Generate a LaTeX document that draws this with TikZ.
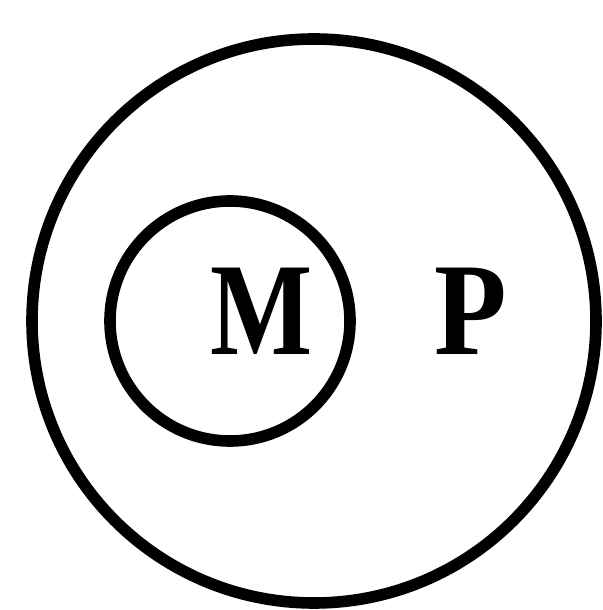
\documentclass[tikz,border=0pt]{standalone}
\usepackage{fontspec}
\setmainfont{Liberation Serif}
\usepackage{tikz}
\tikzset{
  ring/.style={circle, draw=black, line width=5.8pt, inner sep=0pt, outer sep=0pt},
  letter/.style={anchor=base, inner sep=0pt, font=\fontsize{66}{66}\selectfont\bfseries},
}

\begin{document}
\begin{tikzpicture}[x=0.5pt, y=0.5pt]
  \useasboundingbox (0,0) rectangle (602,610);
  \node[ring, minimum size=282pt] (pset) at (314,289) {};
  \node[ring, minimum size=120pt] (mset) at (230,289) {};
  \node[letter] (mlab) at (262,255) {\scalebox{0.82}[1]{\textbf{M}}};
  \node[letter] (plab) at (471,255) {\scalebox{0.9}[1]{\textbf{P}}};
\end{tikzpicture}
\end{document}
